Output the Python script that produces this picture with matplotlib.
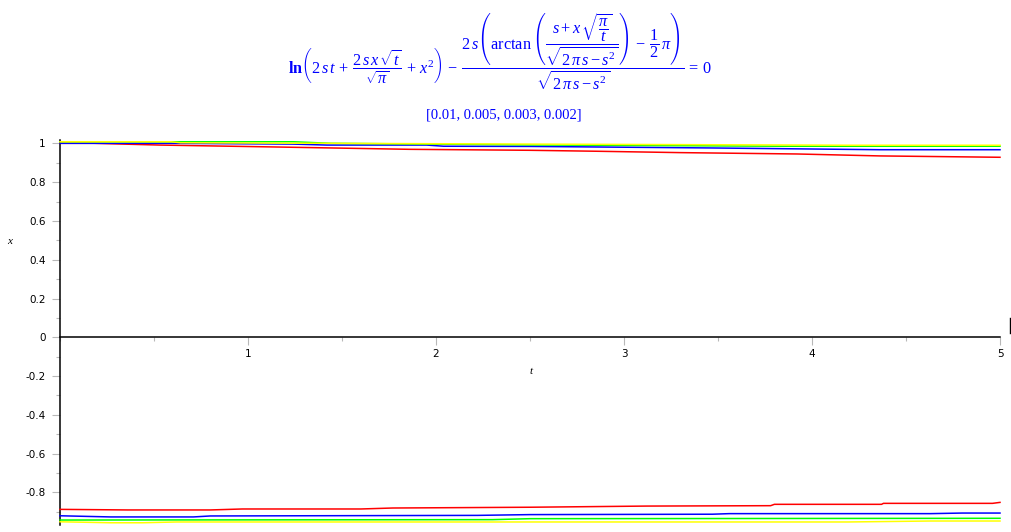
import matplotlib
matplotlib.use("Agg")
import matplotlib.pyplot as plt
from matplotlib.ticker import MultipleLocator, FuncFormatter
from matplotlib.lines import Line2D

plt.rcParams["axes.unicode_minus"] = False
plt.rcParams["mathtext.fontset"] = "custom"
plt.rcParams["mathtext.rm"] = "Liberation Serif"
plt.rcParams["mathtext.it"] = "Liberation Serif:italic"
plt.rcParams["mathtext.bf"] = "Liberation Serif:bold"

s_values = [0.01, 0.005, 0.003, 0.002]
colors = ["#ff0000", "#0000ff", "#00ff00", "#ffff00"]

# upper branch (x near 1)
t_red_top = [0, 0.18, 0.53, 0.84, 1.15, 1.86, 2.5, 2.86, 3.3, 3.92, 4.36, 5.0]
x_red_top = [1.0, 1.0, 0.991, 0.986, 0.981, 0.969, 0.964, 0.959, 0.952, 0.945, 0.935, 0.928]
t_blue_top = [0, 0.6, 1.24, 1.42, 1.95, 2.04, 2.5, 3.47, 4.36, 5.0]
x_blue_top = [1.0, 1.0, 0.996, 0.991, 0.991, 0.985, 0.984, 0.976, 0.967, 0.967]
t_green_top = [0, 1.24, 1.44, 2.5, 3.83, 5.0]
x_green_top = [1.008, 1.008, 1.0, 0.992, 0.985, 0.985]
t_yellow_top = [0, 0.59, 0.64, 2.5, 4.19, 5.0]
x_yellow_top = [1.008, 1.008, 1.003, 0.996, 0.990, 0.990]

# lower branch (x near -0.9)
t_red_bot = [0, 0.36, 0.80, 0.97, 1.6, 1.77, 2.5, 3.12, 3.78, 3.8, 4.37, 4.38, 4.96, 5.0]
x_red_bot = [-0.887, -0.890, -0.890, -0.885, -0.885, -0.880, -0.876, -0.870, -0.868,
             -0.861, -0.861, -0.856, -0.856, -0.851]
t_blue_bot = [0, 0.27, 0.71, 0.80, 2.22, 2.5, 3.47, 3.56, 4.63, 4.8, 5.0]
x_blue_bot = [-0.920, -0.926, -0.926, -0.921, -0.918, -0.914, -0.912, -0.909, -0.909,
              -0.906, -0.906]
t_green_bot = [0, 2.3, 2.5, 5.0]
x_green_bot = [-0.942, -0.940, -0.935, -0.933]
t_yellow_bot = [0, 0.27, 0.44, 0.62, 4.19, 4.63, 5.0]
x_yellow_bot = [-0.951, -0.956, -0.956, -0.952, -0.952, -0.947, -0.947]

x_ticks = [1, 2, 3, 4, 5]
y_ticks = [-0.8, -0.6, -0.4, -0.2, 0, 0.2, 0.4, 0.6, 0.8, 1]

curves = [
    (t_red_top, x_red_top, t_red_bot, x_red_bot),
    (t_blue_top, x_blue_top, t_blue_bot, x_blue_bot),
    (t_green_top, x_green_top, t_green_bot, x_green_bot),
    (t_yellow_top, x_yellow_top, t_yellow_bot, x_yellow_bot),
]

fig = plt.figure(figsize=(10.12, 5.32), dpi=100)
ax = fig.add_axes([60 / 1012, 7.5 / 532, 940 / 1012, 384.1 / 532])

for (tt, xt, tb, xb), c in zip(curves, colors):
    ax.plot(tt, xt, color=c, lw=1.1, clip_on=False, zorder=3)
    ax.plot(tb, xb, color=c, lw=1.1, clip_on=False, zorder=3)

ax.set_xlim(0, 5)
ax.set_ylim(-0.965, 1.015)

for side in ["top", "right"]:
    ax.spines[side].set_visible(False)
ax.spines["bottom"].set_position(("data", 0))
ax.spines["left"].set_linewidth(1.1)
ax.spines["bottom"].set_linewidth(1.1)

ax.set_xticks(x_ticks)
ax.set_yticks(y_ticks)
ax.xaxis.set_minor_locator(MultipleLocator(0.5))
ax.yaxis.set_minor_locator(MultipleLocator(0.1))
fmt = FuncFormatter(lambda v, p: "%g" % round(v, 2))
ax.xaxis.set_major_formatter(fmt)
ax.yaxis.set_major_formatter(fmt)
ax.tick_params(axis="both", which="major", length=5.5, width=0.8, color="#b8b8b8",
               labelsize=7.5, direction="out")
ax.tick_params(axis="both", which="minor", length=3, width=0.8, color="#b8b8b8",
               direction="out")
ax.tick_params(axis="x", pad=3)
ax.tick_params(axis="y", pad=5)

fig.text(10 / 1012, 1 - 242 / 532, "x", fontsize=8, family="Liberation Serif",
         style="italic", ha="center", va="center")
fig.text(531 / 1012, 1 - 372 / 532, "t", fontsize=8, family="Liberation Serif",
         style="italic", ha="center", va="center")

title = (r"$\mathbf{ln}\left(2\,s\,t\,+\,\dfrac{2\,s\,x\,\sqrt{t}}{\sqrt{\pi}}\,+\,x^{2}\right)"
         r"\,-\,\dfrac{2\,s\left(\arctan\left(\dfrac{s+x\,\sqrt{\dfrac{\pi}{t}}}"
         r"{\sqrt{2\,\pi\,s-s^{2}}}\right)\,-\,\dfrac{1}{2}\,\pi\right)}"
         r"{\sqrt{2\,\pi\,s-s^{2}}}\,=\,0$")
fig.text(500 / 1012, 1 - 52 / 532, title, fontsize=11.7, color="#0000ff",
         ha="center", va="center")
fig.text(504 / 1012, 1 - 115 / 532, "[" + ", ".join("%g" % s for s in s_values) + "]",
         fontsize=10.5, color="#0000ff", family="Liberation Serif",
         ha="center", va="center")

fig.add_artist(Line2D([1010.5 / 1012, 1010.5 / 1012], [1 - 318 / 532, 1 - 333 / 532],
                      color="black", lw=1))

fig.savefig("out.png", dpi=100)
